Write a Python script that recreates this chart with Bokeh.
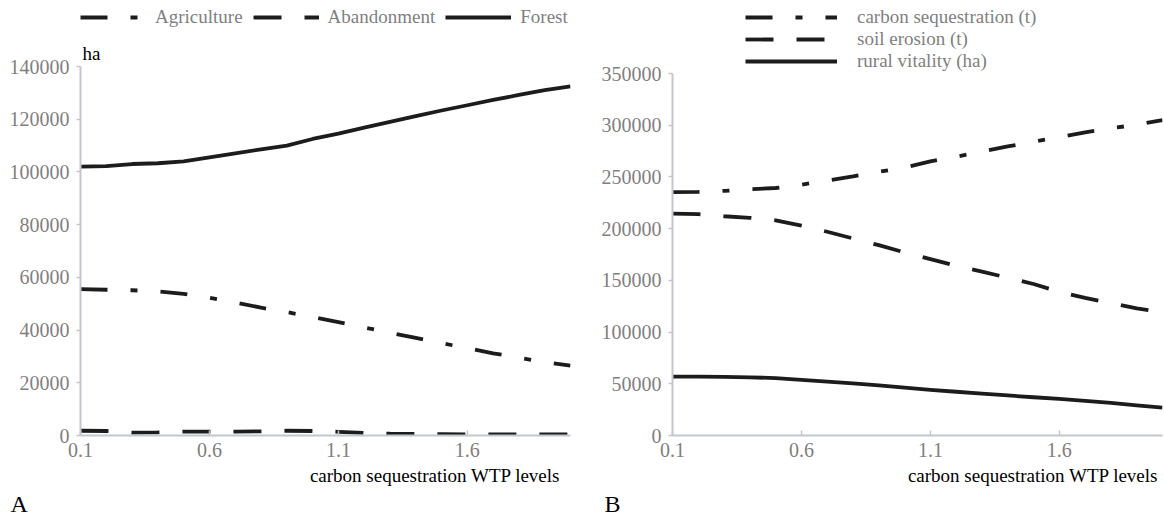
from bokeh.plotting import figure
from bokeh.layouts import row
from bokeh.models import Range1d, FixedTicker, Legend, LegendItem, Title, Label, BasicTickFormatter
from bokeh.embed import file_html
from bokeh.resources import INLINE

# ---------------- data ----------------
wtp_levels = [0.1, 0.2, 0.3, 0.4, 0.5, 0.6, 0.7, 0.8, 0.9, 1.0,
              1.1, 1.2, 1.3, 1.4, 1.5, 1.6, 1.7, 1.8, 1.9, 2.0]
x_ticks = [0.1, 0.6, 1.1, 1.6]

# Panel A (ha)
agriculture = [55500, 55300, 55100, 54700, 53700, 52300, 50500, 48500, 46800, 45000,
               43000, 41000, 39000, 37000, 35000, 33200, 31200, 29500, 27800, 26500]
abandonment = [1800, 1700, 1100, 1200, 1500, 1500, 1500, 1600, 1800, 1700,
               1400, 1000, 700, 600, 500, 400, 400, 400, 400, 400]
forest = [102000, 102200, 103000, 103300, 104000, 105500, 107000, 108600, 110000, 112500,
          114500, 116800, 119000, 121200, 123300, 125300, 127300, 129200, 131000, 132500]
ticks_a = [0, 20000, 40000, 60000, 80000, 100000, 120000, 140000]

# Panel B
carbon_sequestration = [235300, 235500, 236500, 238000, 239300, 242500, 246500, 250500, 255000, 259000,
                        265000, 269500, 274500, 279500, 284000, 288500, 293000, 297000, 300500, 305000]
soil_erosion = [214500, 214000, 212000, 210500, 208000, 203000, 197000, 190500, 184000, 177000,
                170500, 164000, 158500, 152500, 146500, 139000, 133000, 128000, 123000, 119000]
rural_vitality = [57000, 57000, 56700, 56200, 55500, 53800, 52000, 50300, 48500, 46300,
                  44200, 42300, 40400, 38700, 37000, 35500, 33500, 31500, 29200, 27000]
ticks_b = [0, 50000, 100000, 150000, 200000, 250000, 300000, 350000]

FONT = "Liberation Serif"
GRAY_TXT = "#7f7f7f"
AXIS_COL = "#c3c6cc"
LINE_COL = "#1c1c1c"
LW = 3.8
DASHDOT = "27 23 7 23"
DASHED = "28 23"

H = 517
TOP = 2          # frame top (px)
BOTTOM = 82      # space below frame (px)
FRAME_H = H - TOP - BOTTOM


def y_end(axis_max, axis_top_px):
    # extend the range so the axis maximum sits at axis_top_px, leaving room for the legend
    frame_bottom = H - BOTTOM
    return axis_max * FRAME_H / (frame_bottom - axis_top_px)


def style(p, y_ticks):
    p.x_range = Range1d(0.1, 2.0)
    p.xgrid.visible = False
    p.ygrid.visible = False
    p.outline_line_color = None
    p.background_fill_color = "white"
    p.border_fill_color = "white"
    p.xaxis.ticker = FixedTicker(ticks=x_ticks)
    p.yaxis.ticker = FixedTicker(ticks=y_ticks)
    p.yaxis.bounds = (min(y_ticks), max(y_ticks))
    p.yaxis.formatter = BasicTickFormatter(use_scientific=False)
    for ax in (p.xaxis[0], p.yaxis[0]):
        ax.axis_line_color = AXIS_COL
        ax.axis_line_width = 2
        ax.major_tick_line_color = AXIS_COL
        ax.major_tick_line_width = 1.5
        ax.minor_tick_line_color = None
        ax.major_label_text_font = FONT
        ax.major_label_text_font_size = "20px"
        ax.major_label_text_color = GRAY_TXT
    p.xaxis.major_tick_in = 5
    p.xaxis.major_tick_out = 0
    p.xaxis.major_label_standoff = 7
    p.yaxis.major_tick_in = 0
    p.yaxis.major_tick_out = 4
    p.yaxis.major_label_standoff = 7


def legend_style(lg):
    lg.background_fill_alpha = 0
    lg.border_line_color = None
    lg.padding = 0
    lg.margin = 0
    lg.label_text_font = FONT
    lg.label_text_font_size = "19px"
    lg.label_text_color = GRAY_TXT
    lg.label_height = 20
    lg.glyph_height = 20


def title(text, align, offset, size="19px", standoff=0):
    return Title(text=text, align=align, offset=offset, standoff=standoff,
                 text_font=FONT, text_font_size=size, text_font_style="normal",
                 text_color="black")


# ---------------- Panel A ----------------
pa = figure(width=580, height=H, output_backend="svg", toolbar_location=None,
            min_border_left=80, min_border_right=10, min_border_top=TOP, min_border_bottom=BOTTOM,
            y_range=Range1d(0, y_end(max(ticks_a), 66)))
style(pa, ticks_a)

ra1 = pa.line(wtp_levels, agriculture, line_color=LINE_COL, line_width=LW, line_dash=DASHDOT)
ra2 = pa.line(wtp_levels, abandonment, line_color=LINE_COL, line_width=LW, line_dash=DASHED)
ra3 = pa.line(wtp_levels, forest, line_color=LINE_COL, line_width=LW, line_join="round")

lga = Legend(items=[LegendItem(label="Agriculture", renderers=[ra1]),
                    LegendItem(label="Abandonment", renderers=[ra2]),
                    LegendItem(label="Forest", renderers=[ra3])],
             orientation="horizontal", location=(0, 407))
legend_style(lga)
lga.glyph_width = 66
lga.label_standoff = 9
lga.spacing = 10
pa.add_layout(lga, "center")

pa.add_layout(Label(x=0.1, y=max(ticks_a), x_offset=2, y_offset=13, text="ha",
                    text_font=FONT, text_font_size="19px", text_color="black",
                    text_baseline="middle"))

pa.add_layout(title("carbon sequestration WTP levels", "right", 10, standoff=6), "below")
pa.add_layout(title("A", "left", -70, size="24px", standoff=0), "below")

# ---------------- Panel B ----------------
pb = figure(width=584, height=H, output_backend="svg", toolbar_location=None,
            min_border_left=92, min_border_right=2, min_border_top=TOP, min_border_bottom=BOTTOM,
            y_range=Range1d(0, y_end(max(ticks_b), 73)))
style(pb, ticks_b)

rb1 = pb.line(wtp_levels, carbon_sequestration, line_color=LINE_COL, line_width=LW, line_dash=DASHDOT)
rb2 = pb.line(wtp_levels, soil_erosion, line_color=LINE_COL, line_width=LW, line_dash=DASHED)
rb3 = pb.line(wtp_levels, rural_vitality, line_color=LINE_COL, line_width=LW, line_join="round")

lgb = Legend(items=[LegendItem(label="carbon sequestration (t)", renderers=[rb1]),
                    LegendItem(label="soil erosion (t)", renderers=[rb2]),
                    LegendItem(label="rural vitality (ha)", renderers=[rb3])],
             orientation="vertical", location=(73, 363))
legend_style(lgb)
lgb.glyph_width = 92
lgb.label_standoff = 20
lgb.spacing = -2
pb.add_layout(lgb, "center")

pb.add_layout(title("carbon sequestration WTP levels", "right", 4, standoff=6), "below")
pb.add_layout(title("B", "left", -68, size="24px", standoff=0), "below")

layout = row(pa, pb, spacing=0)
open("out.html", "w").write(file_html(layout, INLINE))
